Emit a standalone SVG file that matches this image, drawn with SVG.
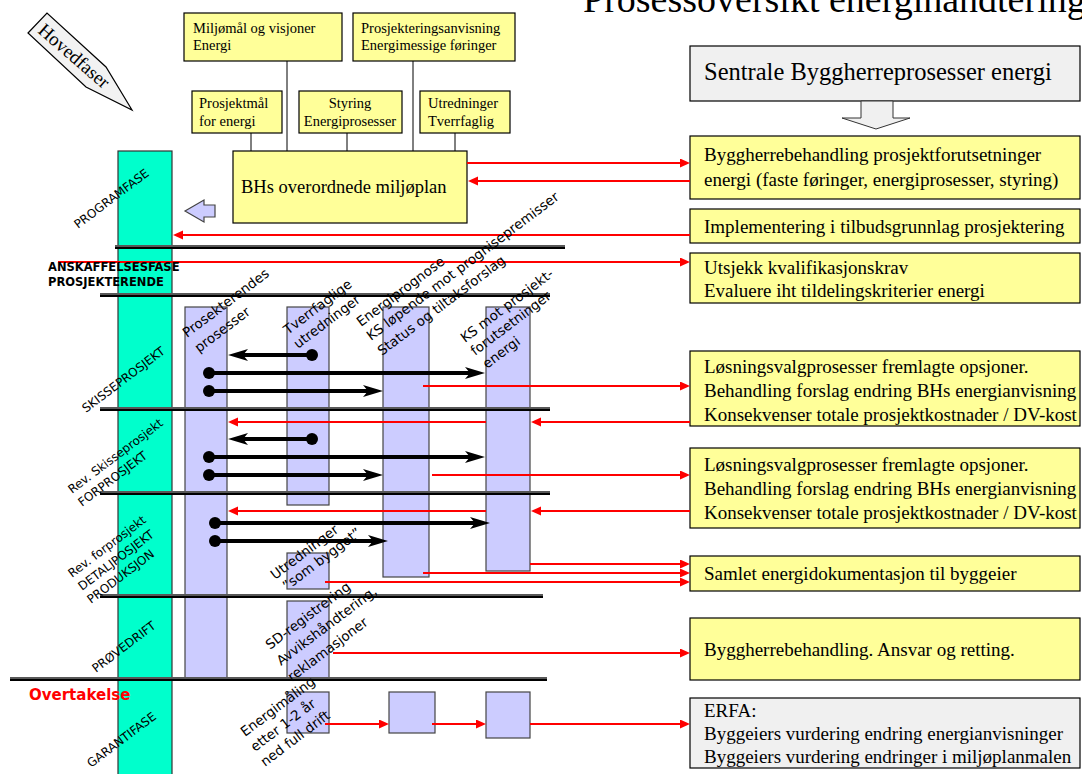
<svg xmlns="http://www.w3.org/2000/svg" width="1082" height="774" viewBox="0 0 1082 774">
<defs>
<style>
.y{fill:#ffff99;stroke:#000;stroke-width:1.2}
.g{fill:#f0f0f0;stroke:#000;stroke-width:1.2}
.lav{fill:#ccccff;stroke:#444;stroke-width:1.2}
.teal{fill:#00ffcc;stroke:#333;stroke-width:1.2}
.ts{font-family:"Liberation Serif","Times New Roman",serif;fill:#000}
.t14{font-size:14.5px}
.t19{font-size:19px}
.ss{font-family:"DejaVu Sans",Verdana,sans-serif;fill:#000}
.ph{font-size:12px}
.cl{font-size:13.5px}
.red{stroke:#ff0000;stroke-width:2;fill:none}
.blk{stroke:#000;stroke-width:4;fill:none}
.thin{stroke:#000;stroke-width:1;fill:none}
.sep{stroke:#000;stroke-width:4}
.sepi{stroke:#b0b0b0;stroke-width:1}
</style>
<marker id="ra" markerUnits="userSpaceOnUse" markerWidth="12" markerHeight="10" refX="7" refY="4.5" orient="auto"><path d="M0,0 L10,4.5 L0,9 z" fill="#ff0000"/></marker>
<marker id="ba" markerUnits="userSpaceOnUse" markerWidth="22" markerHeight="14" refX="12" refY="6" orient="auto"><path d="M0,0 L20,6 L0,12 L5,6 z" fill="#000"/></marker>
</defs>
<rect width="1082" height="774" fill="#fff"/>

<text class="ts" x="583" y="12" font-size="38">Prosessoversikt energihåndtering</text>

<g id="hovedfaser">
<polygon points="28,33 47,13 106,67 132,110 86,87" fill="#f2f2f2" stroke="#000" stroke-width="1.2"/>
<text class="ts" x="37" y="32" font-size="19" transform="rotate(41 37 32)">Hovedfaser</text>
</g>

<g id="phase-column">
<rect class="teal" x="118" y="151" width="54" height="630"/>
</g>

<g id="top-links">
<line class="thin" x1="287" y1="61" x2="287" y2="151"/>
<line class="thin" x1="413" y1="61" x2="413" y2="151"/>
<line class="thin" x1="251" y1="133" x2="251" y2="151"/>
<line class="thin" x1="347" y1="133" x2="347" y2="151"/>
<line class="thin" x1="455" y1="133" x2="455" y2="151"/>
</g>

<g id="miljomal">
<rect class="y" x="184" y="13" width="158" height="48"/>
<text class="ts t14" x="193" y="33">Miljømål og visjoner</text>
<text class="ts t14" x="193" y="50">Energi</text>
</g>
<g id="prosjekteringsanvisning">
<rect class="y" x="353" y="13" width="162" height="48"/>
<text class="ts t14" x="361" y="33">Prosjekteringsanvisning</text>
<text class="ts t14" x="361" y="50">Energimessige føringer</text>
</g>
<g id="prosjektmal">
<rect class="y" x="192" y="91" width="90" height="42"/>
<text class="ts t14" x="199" y="108">Prosjektmål</text>
<text class="ts t14" x="199" y="126">for energi</text>
</g>
<g id="styring">
<rect class="y" x="299" y="91" width="103" height="42"/>
<text class="ts t14" x="350" y="108" text-anchor="middle">Styring</text>
<text class="ts t14" x="350" y="126" text-anchor="middle">Energiprosesser</text>
</g>
<g id="utredninger-top">
<rect class="y" x="420" y="91" width="90" height="42"/>
<text class="ts t14" x="428" y="108">Utredninger</text>
<text class="ts t14" x="428" y="126">Tverrfaglig</text>
</g>
<g id="miljoplan">
<rect class="y" x="233" y="151" width="234" height="72"/>
<text class="ts" x="241" y="193" font-size="18.5">BHs overordnede miljøplan</text>
</g>
<g id="left-hollow-arrow">
<polygon class="lav" points="185,211 204,200 204,205 215,205 215,217 204,217 204,222"/>
</g>

<g id="sentrale">
<rect class="g" x="690" y="46" width="390" height="55"/>
<text class="ts" x="704" y="80" font-size="24.5">Sentrale Byggherreprosesser energi</text>
<polygon points="861,101 893,101 893,118 910,118 876,129 842,118 861,118" fill="#f0f0f0" stroke="#333" stroke-width="1"/>
</g>

<g id="box-a">
<rect class="y" x="690" y="136" width="390" height="63"/>
<text class="ts t19" x="704" y="161">Byggherrebehandling prosjektforutsetninger</text>
<text class="ts t19" x="704" y="186">energi (faste føringer, energiprosesser, styring)</text>
</g>
<g id="box-b">
<rect class="y" x="690" y="209" width="390" height="34"/>
<text class="ts t19" x="704" y="233">Implementering i tilbudsgrunnlag prosjektering</text>
</g>
<g id="box-c">
<rect class="y" x="690" y="253" width="390" height="50"/>
<text class="ts t19" x="704" y="274">Utsjekk kvalifikasjonskrav</text>
<text class="ts t19" x="704" y="297">Evaluere iht tildelingskriterier energi</text>
</g>
<g id="box-d">
<rect class="y" x="690" y="351" width="390" height="75"/>
<text class="ts t19" x="704" y="373">Løsningsvalgprosesser fremlagte opsjoner.</text>
<text class="ts t19" x="704" y="397">Behandling forslag endring BHs energianvisning</text>
<text class="ts t19" x="704" y="421">Konsekvenser totale prosjektkostnader / DV-kost</text>
</g>
<g id="box-e">
<rect class="y" x="690" y="448" width="390" height="80"/>
<text class="ts t19" x="704" y="471">Løsningsvalgprosesser fremlagte opsjoner.</text>
<text class="ts t19" x="704" y="495">Behandling forslag endring BHs energianvisning</text>
<text class="ts t19" x="704" y="519">Konsekvenser totale prosjektkostnader / DV-kost</text>
</g>
<g id="box-f">
<rect class="y" x="690" y="556" width="390" height="35"/>
<text class="ts t19" x="704" y="580">Samlet energidokumentasjon til byggeier</text>
</g>
<g id="box-g">
<rect class="y" x="690" y="618" width="390" height="62"/>
<text class="ts t19" x="704" y="656">Byggherrebehandling. Ansvar og retting.</text>
</g>
<g id="box-h">
<rect class="g" x="690" y="698" width="390" height="70"/>
<text class="ts t19" x="704" y="717">ERFA:</text>
<text class="ts t19" x="704" y="740">Byggeiers vurdering endring energianvisninger</text>
<text class="ts t19" x="704" y="763">Byggeiers vurdering endringer i miljøplanmalen</text>
</g>

<g id="process-columns">
<rect class="lav" x="185" y="307" width="42" height="372"/>
<rect class="lav" x="287" y="307" width="42" height="198"/>
<rect class="lav" x="383" y="307" width="46" height="270"/>
<rect class="lav" x="486" y="307" width="44" height="264"/>
<rect class="lav" x="287" y="553" width="42" height="36"/>
<rect class="lav" x="287" y="601" width="42" height="78"/>
<rect class="lav" x="287" y="692" width="42" height="41"/>
<rect class="lav" x="389" y="692" width="46" height="41"/>
<rect class="lav" x="486" y="692" width="44" height="46"/>
</g>

<g id="separators">
<line class="sep" x1="115" y1="247" x2="565" y2="247"/><line class="sepi" x1="115" y1="246" x2="565" y2="246"/>
<line class="sep" x1="100" y1="295" x2="550" y2="295"/><line class="sepi" x1="100" y1="294" x2="550" y2="294"/>
<line class="sep" x1="100" y1="409" x2="550" y2="409"/><line class="sepi" x1="100" y1="408" x2="550" y2="408"/>
<line class="sep" x1="100" y1="493" x2="550" y2="493"/><line class="sepi" x1="100" y1="492" x2="550" y2="492"/>
<line class="sep" x1="100" y1="596" x2="543" y2="596"/><line class="sepi" x1="100" y1="595" x2="543" y2="595"/>
<line class="sep" x1="10" y1="679" x2="547" y2="679"/><line class="sepi" x1="10" y1="678" x2="547" y2="678"/>
</g>

<g id="connectors">
<line class="red" x1="467" y1="163" x2="687" y2="163" marker-end="url(#ra)"/>
<line class="red" x1="690" y1="181" x2="471" y2="181" marker-end="url(#ra)"/>
<line class="red" x1="690" y1="235" x2="176" y2="235" marker-end="url(#ra)"/>
<line class="red" x1="58" y1="262" x2="687" y2="262" marker-end="url(#ra)"/>
<line class="red" x1="423" y1="386" x2="687" y2="386" marker-end="url(#ra)"/>
<line class="red" x1="690" y1="422" x2="534" y2="422" marker-end="url(#ra)"/>
<line class="red" x1="486" y1="422" x2="231" y2="422" marker-end="url(#ra)"/>
<line class="red" x1="432" y1="475" x2="687" y2="475" marker-end="url(#ra)"/>
<line class="red" x1="690" y1="511" x2="534" y2="511" marker-end="url(#ra)"/>
<line class="red" x1="486" y1="511" x2="231" y2="511" marker-end="url(#ra)"/>
<line class="red" x1="530" y1="564" x2="687" y2="564" marker-end="url(#ra)"/>
<line class="red" x1="423" y1="573" x2="687" y2="573" marker-end="url(#ra)"/>
<line class="red" x1="325" y1="582" x2="687" y2="582" marker-end="url(#ra)"/>
<line class="red" x1="333" y1="653" x2="687" y2="653" marker-end="url(#ra)"/>
<line class="red" x1="325" y1="724" x2="386" y2="724" marker-end="url(#ra)"/>
<line class="red" x1="432" y1="724" x2="483" y2="724" marker-end="url(#ra)"/>
<line class="red" x1="530" y1="724" x2="687" y2="724" marker-end="url(#ra)"/>

<line class="blk" x1="312" y1="355" x2="236" y2="355" marker-end="url(#ba)"/><circle cx="312" cy="355" r="6"/>
<line class="blk" x1="209" y1="373" x2="477" y2="373" marker-end="url(#ba)"/><circle cx="209" cy="373" r="6"/>
<line class="blk" x1="209" y1="391" x2="375" y2="391" marker-end="url(#ba)"/><circle cx="209" cy="391" r="6"/>
<line class="blk" x1="312" y1="439" x2="236" y2="439" marker-end="url(#ba)"/><circle cx="312" cy="439" r="6"/>
<line class="blk" x1="209" y1="457" x2="477" y2="457" marker-end="url(#ba)"/><circle cx="209" cy="457" r="6"/>
<line class="blk" x1="209" y1="475" x2="375" y2="475" marker-end="url(#ba)"/><circle cx="209" cy="475" r="6"/>
<line class="blk" x1="215" y1="523" x2="482" y2="523" marker-end="url(#ba)"/><circle cx="215" cy="523" r="6"/>
<line class="blk" x1="215" y1="541" x2="380" y2="541" marker-end="url(#ba)"/><circle cx="215" cy="541" r="6"/>
</g>

<g id="phase-labels">
<text class="ss ph" x="78" y="229" transform="rotate(-37 78 229)">PROGRAMFASE</text>
<text class="ss" x="48" y="271" font-size="11.5" font-weight="bold">ANSKAFFELSESFASE</text>
<text class="ss" x="48" y="286" font-size="11.5" font-weight="bold">PROSJEKTERENDE</text>
<text class="ss ph" x="86" y="413" transform="rotate(-37 86 413)">SKISSEPROSJEKT</text>
<text class="ss ph" x="72" y="494" transform="rotate(-37 72 494)">Rev. Skisseprosjekt</text>
<text class="ss ph" x="82" y="507" transform="rotate(-37 82 507)">FORPROSJEKT</text>
<text class="ss ph" x="72" y="578" transform="rotate(-37 72 578)">Rev. forprosjekt</text>
<text class="ss ph" x="82" y="591" transform="rotate(-37 82 591)">DETALJPOSJEKT</text>
<text class="ss ph" x="91" y="604" transform="rotate(-37 91 604)">PRODUKSJON</text>
<text class="ss ph" x="96" y="673" transform="rotate(-37 96 673)">PRØVEDRIFT</text>
<text class="ss" x="29" y="700" font-size="15" font-weight="bold" style="fill:#ff0000">Overtakelse</text>
<text class="ss ph" x="91" y="768" transform="rotate(-37 91 768)">GARANTIFASE</text>
</g>

<g id="column-labels">
<text class="ss cl" x="187" y="338" transform="rotate(-37 187 338)">Prosekterendes</text>
<text class="ss cl" x="199" y="353" transform="rotate(-37 199 353)">prosesser</text>
<text class="ss cl" x="288" y="335" transform="rotate(-37 288 335)">Tverrfaglige</text>
<text class="ss cl" x="298" y="349" transform="rotate(-37 298 349)">utredninger</text>
<text class="ss cl" x="361" y="327" transform="rotate(-37 361 327)">Energiprognose</text>
<text class="ss cl" x="371" y="341" transform="rotate(-37 371 341)">KS løpende mot prognisepremisser</text>
<text class="ss cl" x="382" y="356" transform="rotate(-37 382 356)">Status og tiltaksforslag</text>
<text class="ss cl" x="465" y="343" transform="rotate(-37 465 343)">KS mot prosjekt-</text>
<text class="ss cl" x="475" y="356" transform="rotate(-37 475 356)">forutsetninger</text>
<text class="ss cl" x="487" y="369" transform="rotate(-37 487 369)">energi</text>
<text class="ss cl" x="275" y="580" transform="rotate(-37 275 580)">Utredninger</text>
<text class="ss cl" x="287" y="591" transform="rotate(-37 287 591)">”som bygget”</text>
<text class="ss cl" x="270" y="650" transform="rotate(-37 270 650)">SD-registrering</text>
<text class="ss cl" x="281" y="666" transform="rotate(-37 281 666)">Avvikshåndtering,</text>
<text class="ss cl" x="292" y="682" transform="rotate(-37 292 682)">reklamasjoner</text>
<text class="ss cl" x="245" y="737" transform="rotate(-37 245 737)">Energimåling</text>
<text class="ss cl" x="255" y="752" transform="rotate(-37 255 752)">etter 1-2 år</text>
<text class="ss cl" x="265" y="767" transform="rotate(-37 265 767)">ned full drift</text>
</g>
</svg>
